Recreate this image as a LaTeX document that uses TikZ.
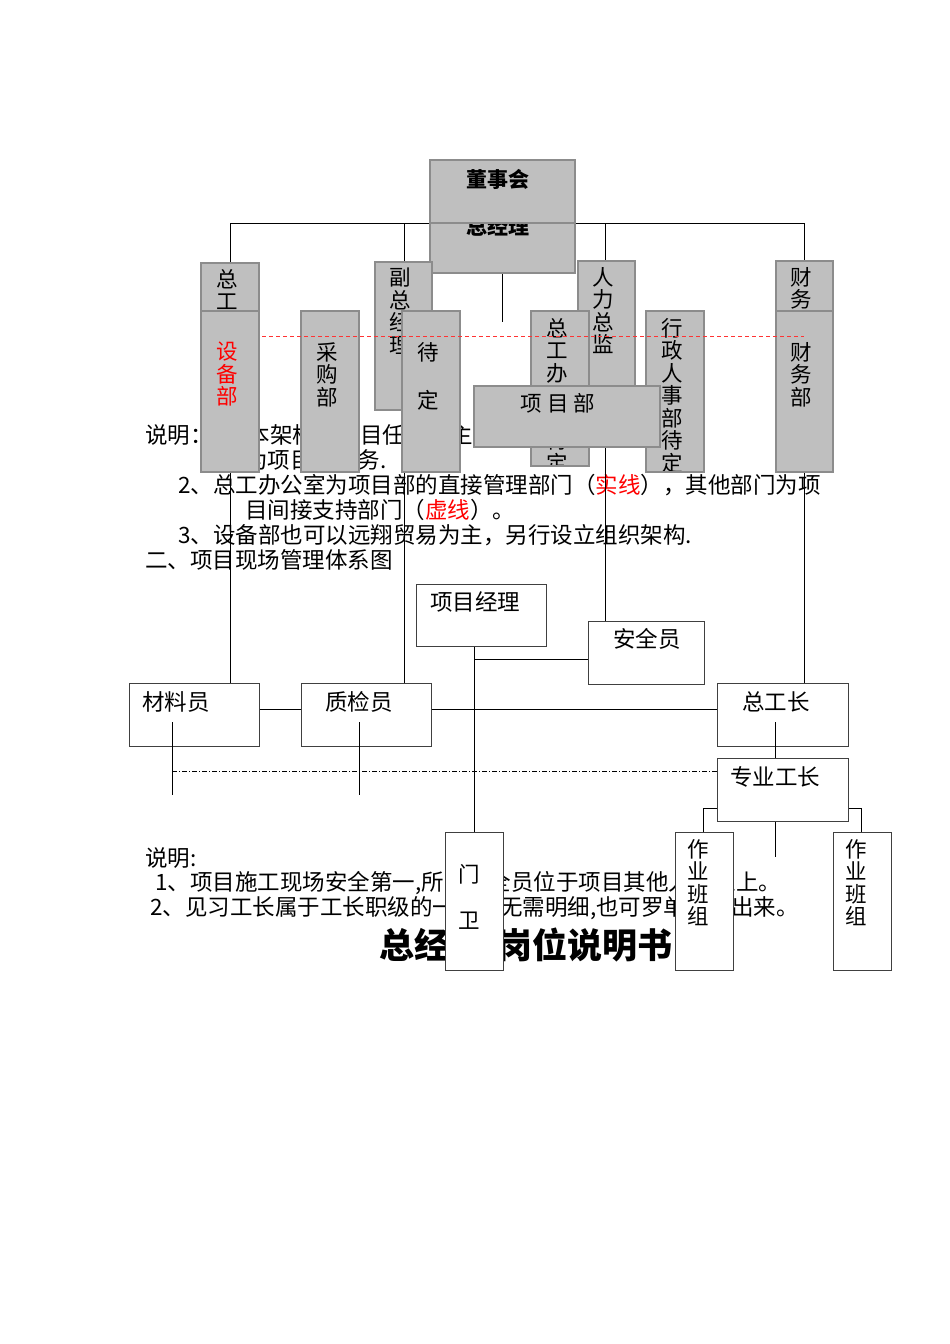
\documentclass[tikz,border=0pt]{standalone}
\usepackage{fontspec}
\setmainfont{Noto Sans CJK SC}
\begin{document}
\begin{tikzpicture}[x=1pt,y=-1pt,
  vtext/.style={font=\fontsize{21.5}{22.5}\selectfont,align=center,text width=22pt,inner sep=0pt},
  gfill/.style={fill=black!25},
  gline/.style={draw=black!45,line width=1.2pt},
  wbox/.style={draw=black!75,line width=1pt,fill=white},
  ln/.style={draw=black,line width=0.8pt},
  txt/.style={font=\fontsize{22.5}{23}\selectfont,anchor=west,inner sep=0pt}]
\useasboundingbox (0,0) rectangle (950,1344);
\newcommand\gbox[7]{%
 \fill[gfill] (#1,#2) rectangle (#3,#4);
 \begin{scope}\clip (#1,#2) rectangle (#3,#4);
  \node[vtext,anchor=north] (#7) at ({(#1+#3)/2-3},#5) {#6};
 \end{scope}
 \draw[gline] (#1,#2) rectangle (#3,#4);}
% body texts
\node[txt] (t1) at (145,435) {说明：1、本架构以项目任务为主线，各职能部门都};
\node[txt] (t2) at (245,460) {为项目部服务.};
\node[txt] (t3) at (178,485) {2、总工办公室为项目部的直接管理部门（\textcolor{red}{实线}），其他部门为项};
\node[txt] (t4) at (245,510) {目间接支持部门（\textcolor{red}{虚线}）。};
\node[txt] (t5) at (178,535) {3、设备部也可以远翔贸易为主，另行设立组织架构.};
\node[txt] (t6) at (145,560) {二、项目现场管理体系图};
\node[txt] (t7) at (145,858) {说明:};
\node[txt] (t8) at (155,883) {1、项目施工现场安全第一,所以安全员位于项目其他人员之上。};
\node[txt] (t9) at (150,908) {2、见习工长属于工长职级的一种，无需明细,也可罗单独列出来。};
\node[font=\fontsize{35}{36}\selectfont\bfseries,inner sep=0pt] (title) at (526,945) {总经理-岗位说明书};
% top connector lines
\draw[ln] (230,683) -- (230,223) -- (804,223) -- (804,683);
\draw[ln] (404,223) -- (404,683);
\draw[ln] (605,223) -- (605,621);
\draw[ln] (502,245) -- (502,322);
% top boxes
\fill[gfill] (430,160) rectangle (575,223);
\node[font=\fontsize{21}{22}\selectfont\bfseries] (dsh) at (498,179) {董事会};
\draw[gline] (430,160) rectangle (575,223);
\fill[gfill] (430,223) rectangle (575,273);
\begin{scope}\clip (430,223) rectangle (575,273);
\node[font=\fontsize{21}{22}\selectfont\bfseries] (zjl) at (498,226) {总经理};
\end{scope}
\draw[gline] (430,223) rectangle (575,273);
\gbox{201}{263}{259}{320}{269}{总\\工\\程\\师}{zgs}
\gbox{375}{262}{432}{410}{268}{副\\总\\经\\理}{fzjl}
\gbox{578}{261}{635}{410}{267}{人\\力\\总\\监}{rlzj}
\gbox{776}{261}{833}{320}{267}{财\\务\\总\\监}{cwzj}
\gbox{201}{311}{259}{472}{342}{\textcolor{red}{设\\备\\部}}{sbb}
\gbox{301}{311}{359}{472}{342}{采\\购\\部}{cgb}
\gbox{402}{311}{460}{472}{342}{待\\[26pt]定}{dd}
\gbox{531}{311}{589}{466}{318}{总\\工\\办\\公\\室\\待\\定}{zgb}
\gbox{646}{311}{704}{472}{318}{行\\政\\人\\事\\部\\待\\定}{xzb}
\gbox{776}{311}{833}{472}{342}{财\\务\\部}{cwb}
\draw[red!80,line width=1pt,dash pattern=on 4pt off 3pt] (262,336) -- (804,336);
\fill[gfill] (474,386) rectangle (660,447);
\node[font=\fontsize{21.5}{22}\selectfont] (xmb) at (558,403) {项 目 部};
\draw[gline] (474,386) rectangle (660,447);
% lower chart
\node[wbox,minimum width=130pt,minimum height=62pt,anchor=north west] (pm) at (416,584) {};
\node[wbox,minimum width=116pt,minimum height=63pt,anchor=north west] (aq) at (588,621) {};
\node[wbox,minimum width=130pt,minimum height=63pt,anchor=north west] (cl) at (129,683) {};
\node[wbox,minimum width=130pt,minimum height=63pt,anchor=north west] (zj) at (301,683) {};
\node[wbox,minimum width=131pt,minimum height=63pt,anchor=north west] (zg) at (717,683) {};
\node[wbox,minimum width=131pt,minimum height=63pt,anchor=north west] (zy) at (717,758) {};
\node[wbox,minimum width=58pt,minimum height=138pt,anchor=north west] (mw) at (445,832) {};
\node[wbox,minimum width=58pt,minimum height=138pt,anchor=north west] (zb1) at (675,832) {};
\node[wbox,minimum width=58pt,minimum height=138pt,anchor=north west] (zb2) at (833,832) {};
\node[txt] (l1) at (430,602) {项目经理};
\node[txt] (l2) at (613,639) {安全员};
\node[txt] (l3) at (142,702) {材料员};
\node[txt] (l4) at (325,702) {质检员};
\node[txt] (l5) at (742,702) {总工长};
\node[txt] (l6) at (730,777) {专业工长};
\node[vtext,anchor=north] (l7) at (469,864) {门\\[24pt]卫};
\node[vtext,anchor=north] (l8) at (698,839) {作\\业\\班\\组};
\node[vtext,anchor=north] (l9) at (856,839) {作\\业\\班\\组};
\coordinate (j1) at (474,659);
\coordinate (s1) at (172,722); \coordinate (s1e) at (172,795);
\coordinate (s2) at (359,722); \coordinate (s2e) at (359,795);
\coordinate (s3) at (775,722);
\coordinate (s4) at (775,857);
\draw[ln] (pm.south -| j1) -- (mw.north -| j1);
\draw[ln] (j1) -- (j1 -| aq.west);
\draw[ln] (cl.east |- 0,709) -- (zj.west |- 0,709);
\draw[ln] (zj.east |- 0,709) -- (zg.west |- 0,709);
\draw[ln] (s1) -- (s1e);
\draw[ln] (s2) -- (s2e);
\draw[ln] (s3) -- (zy.north -| s3);
\draw[ln] (zy.south -| s4) -- (s4);
\draw[ln,dash pattern=on 5pt off 2pt on 1pt off 2pt] (172,771) -- (zy.west |- 0,771);
\draw[ln] (zy.west |- 0,808) -- (703,808) -- (zb1.north -| 703,0);
\draw[ln] (zy.east |- 0,808) -- (861,808) -- (zb2.north -| 861,0);
\end{tikzpicture}
\end{document}
